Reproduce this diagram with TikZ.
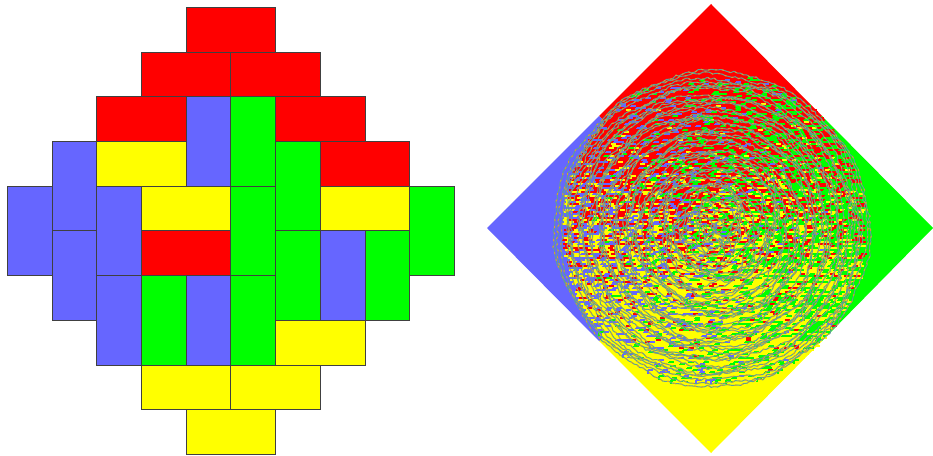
\documentclass[tikz,border=0pt]{standalone}
\usepackage{xcolor}
\definecolor{bluebox}{HTML}{6666FF}
\definecolor{yellowbox}{rgb}{1,1,0}
\definecolor{greenbox}{rgb}{0,1,0}
\definecolor{redbox}{rgb}{1,0,0}
\definecolor{tealline}{HTML}{5F9F96}
\definecolor{orangeline}{HTML}{D8A030}
\tikzset{
	hbox/.style={fill=#1,draw=black!75,line width=0.25pt},
	streak/.style={line width=0.04cm,#1},
	wiggle/.style={line width=0.02cm,line join=round}
}
\begin{document}
\begin{tikzpicture}[x=0.02cm,y=-0.02cm]
	
	\useasboundingbox (0,0) rectangle (933,456);
	
	% small tiling
	\begin{scope}[shift={(7,7)},x=0.895cm,y=-0.895cm]
		\foreach \x/\y in {4/0,3/1,5/1,2/2,6/2,7/3,3/5}
		\draw[hbox=redbox] (\x,\y) rectangle +(2,1);
		\foreach \x/\y in {2/3,3/4,7/4,6/7,3/8,5/8,4/9}
		\draw[hbox=yellowbox] (\x,\y) rectangle +(2,1);
		\foreach \x/\y in {4/2,1/3,0/4,2/4,1/5,7/5,2/6,4/6}
		\draw[hbox=bluebox] (\x,\y) rectangle +(1,2);
		\foreach \x/\y in {5/2,6/3,5/4,9/4,6/5,8/5,3/6,5/6}
		\draw[hbox=greenbox] (\x,\y) rectangle +(1,2);
	\end{scope}
	
	% large diamond
	\fill[redbox] (711,4) -- (822,116) -- (711,228) -- (599,116) -- cycle;
	\fill[greenbox] (933,228) -- (822,341) -- (711,228) -- (822,116) -- cycle;
	\fill[yellowbox] (711,453) -- (599,341) -- (711,228) -- (822,341) -- cycle;
	\fill[bluebox] (487,228) -- (599,116) -- (711,228) -- (599,341) -- cycle;
	
	% random interior
	\pgfmathsetseed{4242}
	\foreach \y in {78,80,...,380} {
		\pgfmathsetmacro{\v}{(\y-229)/157}
		\pgfmathsetmacro{\hw}{150*sqrt(max(1-\v*\v,0.001))}
		\pgfmathtruncatemacro{\cnt}{\hw/2.5}
		\pgfmathsetmacro{\pr}{(1-\v)^2}
		\pgfmathsetmacro{\py}{\pr+(1+\v)^2}
		\foreach \n in {0,...,\cnt} {
			\pgfmathsetmacro{\x}{712-\hw+5*\n+mod(\y,4)}
			\pgfmathsetmacro{\u}{(\x-712)/157}
			\pgfmathsetmacro{\pg}{\py+0.7*(1+\u)^2}
			\pgfmathtruncatemacro{\k}{rnd*(\pg+0.25*(1-\u)^2)*100}
			\ifnum\k<\numexpr\fpeval{round(\pr*100)}\relax
			\draw[streak=redbox] (\x,\y) -- +(6,0);
			\else\ifnum\k<\numexpr\fpeval{round(\py*100)}\relax
			\draw[streak=yellowbox] (\x,\y) -- +(6,0);
			\else\ifnum\k<\numexpr\fpeval{round(\pg*100)}\relax
			\draw[streak=greenbox] (\x,\y) -- +(5,0) (\x,\y) -- +(0,4);
			\else
			\draw[streak=bluebox] (\x,\y) -- +(5,0) (\x,\y) -- +(0,4);
			\fi\fi\fi
		}
	}
	
	% wandering contours
	\begin{scope}[shift={(712,229)}]
		\foreach \i in {1,...,50} {
			\pgfmathsetmacro{\rr}{157-3.05*(\i-1)}
			\pgfmathsetmacro{\amp}{1.5+(157-\rr)*0.02}
			\pgfmathsetmacro{\dx}{(157-\rr)*0.08*sin(97*\i)}
			\pgfmathsetmacro{\dy}{(157-\rr)*0.08*cos(131*\i)}
			\pgfmathtruncatemacro{\sam}{1.9*\rr+6}
			\draw[wiggle,color=tealline,shift={(\dx,\dy)},
			postaction={draw,color=orangeline,dash pattern=on 0.04cm off 0.1cm}]
			plot[samples=\sam,domain=0:360] (\x:{\rr+1.4*rand+\amp*sin(4*\x+70*\i)+1.2*sin(11*\x+25*\i)}) -- cycle;
		}
	\end{scope}
	
\end{tikzpicture}
\end{document}
